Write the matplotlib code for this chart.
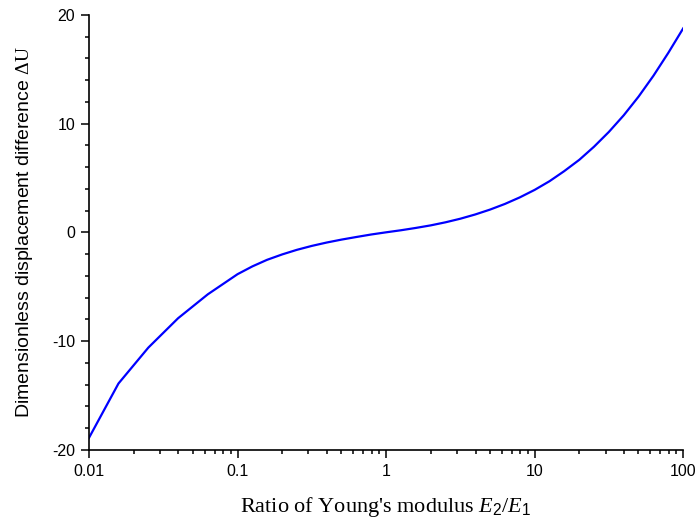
import matplotlib
matplotlib.use('Agg')
import matplotlib.pyplot as plt
from matplotlib.ticker import FixedLocator, MultipleLocator, LogLocator, NullFormatter

# Modulus ratio E2/E1 (log spaced) and displacement difference
ratio = [0.01, 0.0158, 0.0251, 0.0398, 0.0631,
         0.1, 0.126, 0.158, 0.2, 0.251, 0.316, 0.398, 0.501, 0.631, 0.794,
         1.0, 1.26, 1.58, 2.0, 2.51, 3.16, 3.98, 5.01, 6.31, 7.94,
         10.0, 12.6, 15.8, 20.0, 25.1, 31.6, 39.8, 50.1, 63.1, 79.4, 100.0]
delta_u = [-18.9, -13.9, -10.6, -7.9, -5.7,
           -3.85, -3.13, -2.53, -2.03, -1.61, -1.25, -0.94, -0.67, -0.43, -0.2,
           0.0, 0.19, 0.40, 0.64, 0.92, 1.25, 1.64, 2.09, 2.61, 3.21,
           3.90, 4.70, 5.62, 6.67, 7.87, 9.23, 10.76, 12.48, 14.40, 16.5, 18.75]

x_ticks = [0.01, 0.1, 1, 10, 100]
x_tick_labels = ['0.01', '0.1', '1', '10', '100']
y_ticks = [-20, -10, 0, 10, 20]

plt.rcParams['font.family'] = 'Liberation Sans'
plt.rcParams['axes.unicode_minus'] = False
plt.rcParams['mathtext.fontset'] = 'custom'
plt.rcParams['mathtext.rm'] = 'Liberation Serif'
plt.rcParams['mathtext.it'] = 'Liberation Serif:italic'
plt.rcParams['mathtext.sf'] = 'Liberation Sans'

fig = plt.figure(figsize=(6.95, 5.28), dpi=100)
ax = fig.add_axes([0.128, 0.148, 0.855, 0.824])

ax.plot(ratio, delta_u, color='#0000ff', linewidth=1.6)

ax.set_xscale('log')
ax.set_xlim(0.01, 100)
ax.set_ylim(-20, 20)

ax.xaxis.set_major_locator(FixedLocator(x_ticks))
ax.set_xticklabels(x_tick_labels)
ax.xaxis.set_minor_locator(LogLocator(base=10, subs=range(2, 10)))
ax.xaxis.set_minor_formatter(NullFormatter())
ax.yaxis.set_major_locator(FixedLocator(y_ticks))
ax.yaxis.set_minor_locator(MultipleLocator(2))

for side in ['top', 'right']:
    ax.spines[side].set_visible(False)
for side in ['left', 'bottom']:
    ax.spines[side].set_linewidth(1.2)

ax.tick_params(which='major', direction='out', length=6, width=1.1, labelsize=11.5, pad=4)
ax.tick_params(which='minor', direction='out', length=3, width=1.1)

ax.set_ylabel(r'Dimensionless displacement difference $\Delta\mathrm{U}$', fontsize=14, labelpad=12)
ax.set_xlabel(r"Ratio of Young's modulus $E_{\mathsf{2}}/E_{\mathsf{1}}$",
              fontsize=16, family='Liberation Serif', labelpad=12)

fig.savefig('out.png', dpi=100)
